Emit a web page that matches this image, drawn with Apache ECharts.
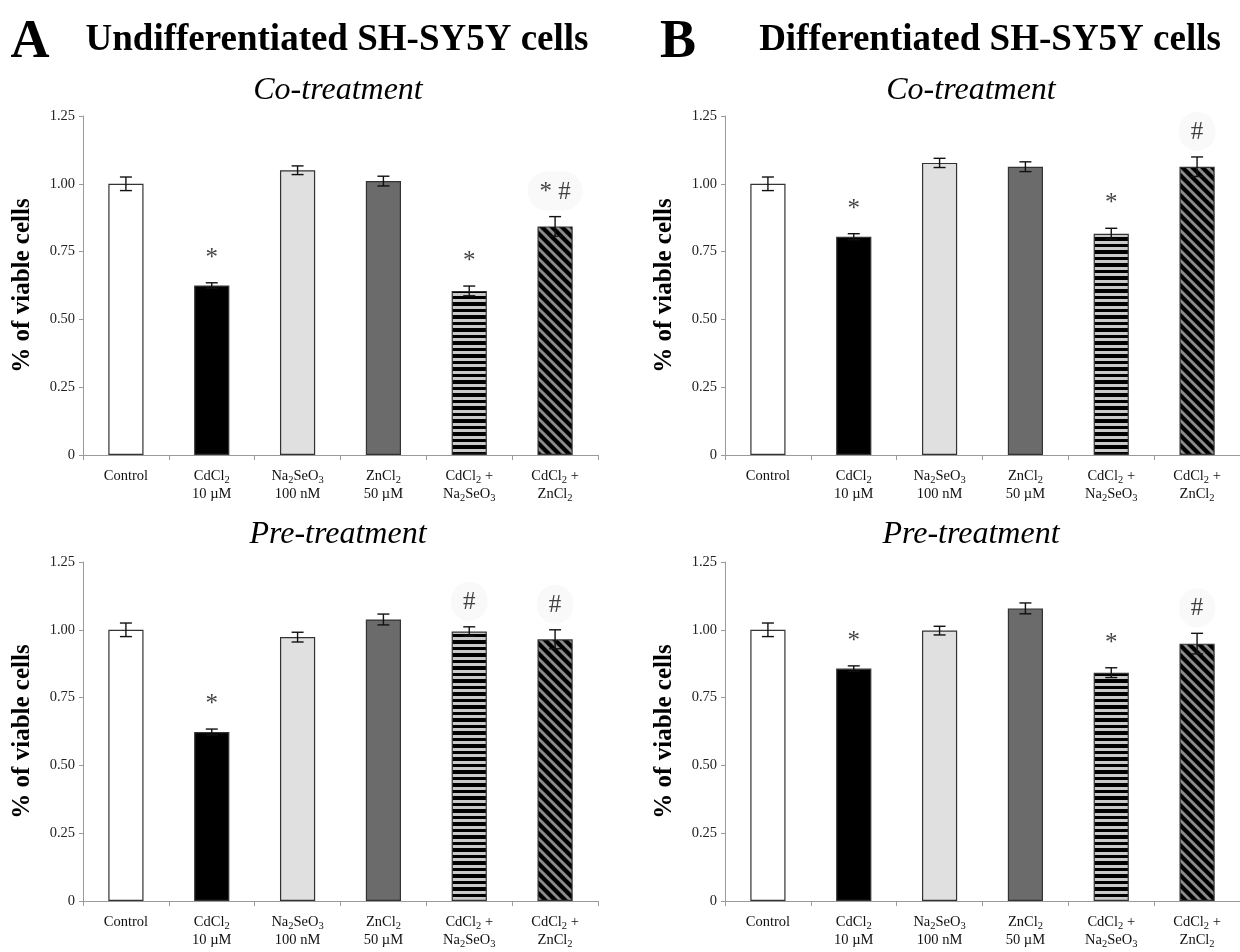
<!DOCTYPE html>
<html><head><meta charset="utf-8">
<script src="https://cdn.jsdelivr.net/npm/echarts@6/dist/echarts.min.js"></script>
<style>html,body{margin:0;padding:0;background:#fff}#c{width:1240px;height:952px}</style>
</head><body><div id="c"></div><script>
// ---------- data ----------
const categories = ['Control', 'CdCl₂\n10 µM', 'Na₂SeO₃\n100 nM', 'ZnCl₂\n50 µM', 'CdCl₂ +\nNa₂SeO₃', 'CdCl₂ +\nZnCl₂'];
const yTickMax = 1.25;
const yTickStep = 0.25;

const undiffCoMean = [1.00, 0.625, 1.050, 1.010, 0.605, 0.843];
const undiffCoErr  = [0.025, 0.010, 0.016, 0.018, 0.018, 0.036];
const undiffCoSig  = ['', '*', '', '', '*', '* #'];

const undiffPreMean = [1.00, 0.623, 0.973, 1.038, 0.994, 0.965];
const undiffPreErr  = [0.025, 0.011, 0.018, 0.020, 0.017, 0.035];
const undiffPreSig  = ['', '*', '', '', '#', '#'];

const diffCoMean = [1.00, 0.805, 1.077, 1.063, 0.816, 1.063];
const diffCoErr  = [0.025, 0.011, 0.017, 0.018, 0.020, 0.036];
const diffCoSig  = ['', '*', '', '', '*', '#'];

const diffPreMean = [1.00, 0.857, 0.997, 1.079, 0.842, 0.949];
const diffPreErr  = [0.025, 0.010, 0.016, 0.020, 0.018, 0.038];
const diffPreSig  = ['', '*', '', '', '*', '#'];

// ---------- patterns ----------
function stripeCanvas() {
  const c = document.createElement('canvas'); c.width = 8; c.height = 13;
  const g = c.getContext('2d');
  g.fillStyle = '#000'; g.fillRect(0, 0, 8, 13);
  g.fillStyle = '#c9c9c9'; g.fillRect(0, 0, 8, 3); g.fillRect(0, 7, 8, 3);
  return c;
}
function hatchCanvas() {
  const s = 10;
  const c = document.createElement('canvas'); c.width = s; c.height = s;
  const g = c.getContext('2d');
  g.fillStyle = '#000'; g.fillRect(0, 0, s, s);
  g.strokeStyle = '#8c8c8c'; g.lineWidth = 2.8;
  for (let k = -1; k <= 1; k++) {
    g.beginPath(); g.moveTo(k * s - 1, -1); g.lineTo(k * s + s + 1, s + 1); g.stroke();
  }
  return c;
}
const fills = ['#ffffff', '#000000', '#e0e0e0', '#6b6b6b',
  { image: stripeCanvas(), repeat: 'repeat' },
  { image: hatchCanvas(), repeat: 'repeat' }];

const SERIF = '"Liberation Serif", "Times New Roman", serif';

const panels = [
  { left: 83,  top: 116, mean: undiffCoMean,  err: undiffCoErr,  sig: undiffCoSig },
  { left: 725, top: 116, mean: diffCoMean,    err: diffCoErr,    sig: diffCoSig },
  { left: 83,  top: 562, mean: undiffPreMean, err: undiffPreErr, sig: undiffPreSig },
  { left: 725, top: 562, mean: diffPreMean,   err: diffPreErr,   sig: diffPreSig }
];

function subFmt(v) {
  return v.replace(/[₀-₉]/g, ch => '{s|' + (ch.charCodeAt(0) - 0x2080) + '}');
}

const grid = [], xAxis = [], yAxis = [], series = [];
panels.forEach((p, i) => {
  grid.push({ left: p.left, top: p.top, width: 515, height: 339 });
  xAxis.push({
    type: 'category', gridIndex: i, data: categories,
    axisLine: { lineStyle: { color: '#9a9a9a', width: 1 } },
    axisTick: { show: true, length: 5, lineStyle: { color: '#9a9a9a' } },
    axisLabel: {
      interval: 0, margin: 12, color: '#111', fontFamily: SERIF, fontSize: 14.5, lineHeight: 18,
      formatter: subFmt,
      rich: { s: { fontSize: 10.5, fontFamily: SERIF, color: '#111', padding: [8, 0, 0, 0], lineHeight: 18 } }
    }
  });
  yAxis.push({
    type: 'value', gridIndex: i, min: 0, max: yTickMax, interval: yTickStep,
    name: '% of viable cells', nameLocation: 'middle', nameGap: 48, nameRotate: 90,
    nameTextStyle: { fontFamily: SERIF, fontWeight: 'bold', fontSize: 25, color: '#000' },
    axisLine: { show: true, lineStyle: { color: '#9a9a9a', width: 1 } },
    axisTick: { show: true, length: 4, lineStyle: { color: '#9a9a9a' } },
    splitLine: { show: false },
    axisLabel: {
      color: '#222', fontFamily: SERIF, fontSize: 14.5, margin: 8,
      formatter: v => v === 0 ? '0' : v.toFixed(2)
    }
  });
  series.push({
    type: 'bar', xAxisIndex: i, yAxisIndex: i, barWidth: '41%',
    data: p.mean.map((v, k) => ({
      value: v,
      itemStyle: { color: fills[k], borderColor: '#333', borderWidth: 1.2 }
    })),
    z: 2
  });
  series.push({
    type: 'custom', xAxisIndex: i, yAxisIndex: i, z: 5,
    data: p.mean.map((v, k) => [k, v - p.err[k], v + p.err[k]]),
    renderItem: function (params, api) {
      const lo = api.coord([api.value(0), api.value(1)]);
      const hi = api.coord([api.value(0), api.value(2)]);
      const hw = 6;
      const st = { stroke: '#111', lineWidth: 1.4 };
      return { type: 'group', children: [
        { type: 'line', shape: { x1: hi[0], y1: hi[1], x2: lo[0], y2: lo[1] }, style: st },
        { type: 'line', shape: { x1: hi[0] - hw, y1: hi[1], x2: hi[0] + hw, y2: hi[1] }, style: st },
        { type: 'line', shape: { x1: lo[0] - hw, y1: lo[1], x2: lo[0] + hw, y2: lo[1] }, style: st }
      ] };
    }
  });
  series.push({
    type: 'scatter', xAxisIndex: i, yAxisIndex: i, symbolSize: 0, z: 6, silent: true,
    data: p.mean.map((v, k) => {
      const t = p.sig[k];
      const hasHash = t.indexOf('#') >= 0;
      return {
        value: [k, v + p.err[k]],
        label: {
          show: t !== '', position: 'top', formatter: t,
          distance: hasHash ? 6 : 12,
          fontFamily: SERIF, fontSize: 25, color: '#111',
          backgroundColor: hasHash ? '#f7f7f7' : 'transparent',
          borderRadius: 22, padding: hasHash ? [8, 12, 6, 12] : 0
        }
      };
    })
  });
});

const graphic = [];
function txt(x, y, text, font) {
  graphic.push({ type: 'text', x: x, y: y, style: {
    text: text, font: font, fill: '#000',
    align: 'center', verticalAlign: 'middle', textAlign: 'center', textVerticalAlign: 'middle'
  } });
}
txt(30, 43, 'A', 'bold 54px ' + SERIF);
txt(337, 40, 'Undifferentiated SH-SY5Y cells', 'bold 37px ' + SERIF);
txt(678, 43, 'B', 'bold 54px ' + SERIF);
txt(990, 40, 'Differentiated SH-SY5Y cells', 'bold 37px ' + SERIF);
txt(338, 91, 'Co-treatment', 'italic 32px ' + SERIF);
txt(971, 91, 'Co-treatment', 'italic 32px ' + SERIF);
txt(338, 535, 'Pre-treatment', 'italic 32px ' + SERIF);
txt(971, 535, 'Pre-treatment', 'italic 32px ' + SERIF);

const chart = echarts.init(document.getElementById('c'), null, { renderer: 'canvas' });
chart.setOption({ animation: false, backgroundColor: '#fff', grid, xAxis, yAxis, series, graphic });
</script></body></html>
